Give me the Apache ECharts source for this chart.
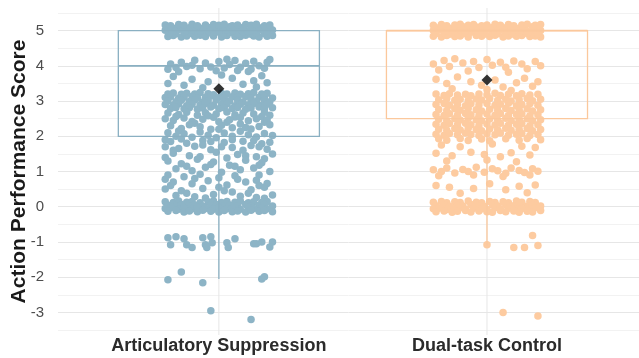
<!DOCTYPE html>
<html>
<head>
<meta charset="utf-8">
<script src="https://cdn.jsdelivr.net/npm/echarts@6/dist/echarts.min.js"></script>
<style>html,body{margin:0;padding:0;background:#fff}#c{width:639px;height:358px}</style>
</head>
<body>
<div id="c"></div>
<script>
// ---- Data ----
const categories = ['Articulatory Suppression', 'Dual-task Control'];
const yTickLabels = [-3, -2, -1, 0, 1, 2, 3, 4, 5];
const yAxisTitle = 'Action Performance Score';
// box stats: [lowWhisker, q1, median, q3, highWhisker]
const boxArticulatory = [-2.05, 2, 4, 5, 5];
const boxDualTask = [-1.1, 2.5, 5, 5, 5];
const meanValues = [3.35, 3.6];
// jittered points: [horizontal jitter, score]
const pointsArticulatory = [
[-.19,4.83],[-.17,4.86],[-.14,4.82],[-.12,4.85],[-.09,4.84],[-.07,4.87],[-.05,4.83],[-.02,4.85],[.01,4.82],[.03,4.86],[.06,4.84],[.08,4.83],[.1,4.87],[.13,4.85],[.15,4.82],[.18,4.84],[.2,4.86],
[-.18,4.93],[-.16,4.91],[-.13,4.95],[-.11,4.92],[-.08,4.94],[-.06,4.9],[-.03,4.93],[-.01,4.95],[.02,4.91],[.04,4.94],[.07,4.92],[.09,4.95],[.12,4.9],[.14,4.93],[.17,4.91],[.19,4.94],
[-.2,5.01],[-.17,4.99],[-.15,5.03],[-.12,5.0],[-.1,5.02],[-.07,4.98],[-.04,5.01],[-.02,5.03],[.0,4.99],[.03,5.02],[.05,5.0],[.08,5.03],[.11,4.98],[.13,5.01],[.16,5.02],[.18,4.99],[.2,5.02],
[-.19,5.09],[-.16,5.07],[-.14,5.1],[-.11,5.08],[-.09,5.11],[-.06,5.07],[-.03,5.09],[-.01,5.1],[.02,5.08],[.04,5.11],[.07,5.07],[.09,5.09],[.12,5.1],[.15,5.08],[.17,5.11],[.19,5.07],
[-.2,5.16],[-.18,5.14],[-.15,5.17],[-.13,5.15],[-.1,5.18],[-.08,5.14],[-.05,5.16],[-.02,5.17],[.0,5.15],[.02,5.18],[.05,5.14],[.07,5.16],[.1,5.17],[.12,5.15],[.14,5.18],[.17,5.14],[.19,5.16],
[-.18,4.05],[-.16,3.95],[-.14,4.1],[-.12,3.98],[-.1,4.02],[-.07,3.92],[-.05,4.08],[-.03,3.97],[.0,4.12],[.02,3.94],[.04,4.04],[.06,4.15],[.08,3.96],[.1,4.07],[.12,3.9],[.13,4.13],[.15,4.0],[.17,3.93],[.18,4.1],[.19,4.18],[-.19,3.9],[-.09,4.16],[.03,4.19],[-.01,3.86],[.11,3.84],[-.15,3.83],[.07,3.87],
[-.17,3.7],[-.1,3.62],[-.04,3.55],[.05,3.65],[.09,3.48],[.13,3.58],[.16,3.72],[.18,3.52],[-.13,3.45],[-.06,3.38],[.01,3.74],[.14,3.4],[-.19,3.5],
[-.19,3.2],[-.17,3.23],[-.14,3.19],[-.12,3.22],[-.09,3.2],[-.07,3.24],[-.04,3.21],[-.02,3.18],[.01,3.22],[.03,3.2],[.06,3.23],[.08,3.19],[.11,3.21],[.13,3.24],[.16,3.2],[.18,3.22],
[-.2,3.1],[-.18,3.12],[-.15,3.08],[-.13,3.11],[-.1,3.13],[-.08,3.09],[-.05,3.11],[-.03,3.14],[.0,3.1],[.02,3.08],[.05,3.12],[.07,3.1],[.1,3.13],[.12,3.09],[.15,3.11],[.17,3.13],[.2,3.09],
[-.19,3.0],[-.16,2.98],[-.14,3.02],[-.11,2.99],[-.09,3.03],[-.06,2.97],[-.04,3.01],[-.01,3.03],[.02,2.98],[.04,3.0],[.07,3.02],[.09,2.97],[.12,3.01],[.14,2.99],[.17,3.03],[.19,2.98],
[-.2,2.9],[-.17,2.88],[-.15,2.92],[-.12,2.87],[-.1,2.91],[-.07,2.89],[-.05,2.93],[-.02,2.88],[.01,2.9],[.03,2.92],[.06,2.87],[.08,2.91],[.11,2.89],[.13,2.93],[.16,2.88],[.18,2.91],
[-.18,2.79],[-.16,2.82],[-.13,2.78],[-.11,2.81],[-.08,2.77],[-.06,2.8],[-.03,2.83],[.0,2.78],[.02,2.81],[.05,2.79],[.07,2.82],[.1,2.77],[.12,2.8],[.15,2.83],[.17,2.78],[.2,2.81],
[-.19,2.66],[-.15,2.62],[-.12,2.68],[-.08,2.6],[-.05,2.67],[-.01,2.63],[.03,2.69],[.06,2.61],[.09,2.66],[.13,2.63],[.17,2.68],[.19,2.6],
[-.16,2.56],[-.04,2.58],[.06,2.55],[.16,2.56],[-.09,2.37],[.03,2.4],[.17,2.4],[-.15,2.15],[.0,2.2],[.1,2.25],
[-.2,2.5],[-.17,2.45],[-.13,2.52],[-.1,2.42],[-.06,2.48],[-.02,2.54],[.0,2.41],[.04,2.47],[.08,2.53],[.11,2.44],[.14,2.5],[.18,2.46],
[-.18,2.3],[-.14,2.22],[-.11,2.33],[-.07,2.27],[-.03,2.2],[.01,2.31],[.05,2.24],[.08,2.35],[.12,2.21],[.15,2.28],[.19,2.33],
[-.19,2.1],[-.16,2.0],[-.13,2.07],[-.1,1.97],[-.07,2.12],[-.04,2.03],[-.01,1.96],[.02,2.09],[.05,2.0],[.08,2.14],[.11,2.04],[.14,1.98],[.17,2.08],[.2,2.02],
[-.18,1.85],[-.12,1.8],[-.06,1.88],[.02,1.82],[.09,1.86],[.16,1.79],
[-.2,1.9],[-.14,1.92],[-.03,1.85],[.05,1.9],[.13,1.88],[.19,1.83],
[-.2,1.7],[-.15,1.65],[-.09,1.72],[-.03,1.62],[.05,1.68],[.12,1.74],[.18,1.63],
[-.17,1.6],[-.06,1.75],[.01,1.7],[.09,1.6],[.15,1.7],
[-.17,1.52],[-.11,1.45],[-.01,1.55],[.07,1.48],[.14,1.42],[.2,1.5],
[-.2,1.4],[-.07,1.42],[.03,1.38],[.1,1.45],[.17,1.36],
[-.19,1.3],[-.14,1.22],[-.08,1.35],[-.02,1.27],[.04,1.18],[.1,1.32],[.16,1.25],
[-.12,1.15],[-.03,1.2],[.06,1.15],[.15,1.18],
[-.16,1.08],[-.1,1.02],[-.05,1.12],[.01,0.98],[.08,1.05],[.13,1.1],[.19,1.0],
[-.19,0.9],[-.13,0.85],[-.07,0.92],[.0,0.82],[.06,0.88],[.15,0.9],
[-.2,0.78],[-.09,0.8],[.07,0.78],[.14,0.75],
[-.17,0.7],[-.1,0.65],[-.04,0.74],[.03,0.62],[.1,0.7],[.18,0.66],
[-.18,0.6],[.0,0.55],[.15,0.6],
[-.2,0.5],[-.14,0.45],[-.06,0.52],[.05,0.42],[.12,0.48],[.17,0.55],
[-.12,0.38],[.02,0.45],[.11,0.38],[-.05,0.25],[.17,0.24],
[-.16,0.32],[-.09,0.28],[-.02,0.35],[.08,0.3],[.14,0.26],[.2,0.33],
[-.2,0.14],[-.17,0.12],[-.15,0.16],[-.12,0.13],[-.1,0.15],[-.07,0.11],[-.04,0.14],[-.02,0.16],[.01,0.12],[.03,0.15],[.06,0.13],[.08,0.16],[.11,0.11],[.13,0.14],[.16,0.12],[.18,0.15],
[-.19,0.04],[-.16,0.02],[-.14,0.06],[-.11,0.03],[-.09,0.05],[-.06,0.01],[-.03,0.04],[-.01,0.06],[.02,0.02],[.04,0.05],[.07,0.03],[.1,0.06],[.12,0.01],[.15,0.04],[.17,0.06],[.2,0.02],
[-.2,-0.05],[-.18,-0.03],[-.15,-0.07],[-.13,-0.04],[-.1,-0.06],[-.08,-0.02],[-.05,-0.05],[-.02,-0.07],[.0,-0.03],[.03,-0.06],[.05,-0.04],[.08,-0.07],[.11,-0.02],[.13,-0.05],[.16,-0.03],[.18,-0.06],
[-.19,-0.13],[-.16,-0.11],[-.13,-0.15],[-.11,-0.12],[-.08,-0.14],[-.06,-0.1],[-.03,-0.13],[.0,-0.15],[.02,-0.11],[.05,-0.14],[.07,-0.12],[.1,-0.15],[.12,-0.1],[.15,-0.13],[.17,-0.11],[.2,-0.14],
[-.19,-0.88],[-.18,-1.08],[-.16,-0.85],[-.13,-0.91],[-.12,-1.08],[-.1,-1.16],[-.06,-0.88],[-.05,-1.08],[-.045,-1.16],[-.03,-0.85],[-.025,-1.02],[.03,-1.02],[.035,-1.16],[.06,-0.91],[.13,-1.05],[.14,-1.05],[.16,-1.0],[.2,-1.0],[.19,-1.14],
[-.19,-2.07],[-.14,-1.85],[-.06,-2.16],[.16,-2.05],[.17,-1.99],[-.03,-2.95],[.12,-3.2]
];
const pointsDualTask = [
[-.2,4.84],[-.17,4.82],[-.15,4.86],[-.12,4.83],[-.1,4.85],[-.07,4.82],[-.04,4.86],[-.02,4.84],[.01,4.83],[.03,4.87],[.06,4.82],[.08,4.85],[.11,4.84],[.13,4.86],[.16,4.83],[.18,4.85],[.2,4.82],
[-.19,4.92],[-.16,4.94],[-.14,4.9],[-.11,4.93],[-.09,4.91],[-.06,4.95],[-.03,4.92],[-.01,4.9],[.02,4.94],[.04,4.91],[.07,4.93],[.1,4.9],[.12,4.95],[.15,4.92],[.17,4.94],[.19,4.91],
[-.2,5.0],[-.18,5.02],[-.15,4.98],[-.13,5.01],[-.1,5.03],[-.08,4.99],[-.05,5.02],[-.02,5.0],[.0,5.03],[.03,4.98],[.05,5.01],[.08,4.99],[.1,5.02],[.13,5.0],[.15,4.98],[.18,5.03],[.2,5.0],
[-.19,5.08],[-.17,5.1],[-.14,5.07],[-.12,5.09],[-.09,5.11],[-.06,5.08],[-.04,5.1],[-.01,5.07],[.02,5.09],[.04,5.11],[.07,5.08],[.09,5.1],[.12,5.07],[.14,5.09],[.17,5.11],[.19,5.08],
[-.2,5.15],[-.17,5.17],[-.15,5.14],[-.12,5.16],[-.1,5.18],[-.07,5.15],[-.05,5.17],[-.02,5.14],[.0,5.16],[.03,5.18],[.05,5.15],[.08,5.17],[.1,5.14],[.13,5.16],[.15,5.18],[.18,5.15],[.2,5.17],
[-.2,4.05],[-.16,4.15],[-.14,3.98],[-.12,4.2],[-.09,4.08],[-.05,4.12],[-.03,3.95],[.0,4.18],[.02,4.02],[.05,4.1],[.07,3.96],[.1,4.14],[.13,4.05],[.15,3.92],[.18,4.12],[.2,4.0],[-.18,3.88],[-.07,3.85],[.08,3.82],
[-.19,3.62],[-.15,3.5],[-.11,3.68],[-.06,3.55],[-.02,3.45],[.03,3.6],[.06,3.4],[.11,3.52],[.14,3.65],[.17,3.42],[.19,3.55],[-.13,3.35],[.0,3.33],[.09,3.3],
[-.19,3.2],[-.16,3.16],[-.14,3.21],[-.11,3.17],[-.08,3.19],[-.06,3.15],[-.03,3.2],[.0,3.18],[.03,3.22],[.05,3.16],[.08,3.19],[.11,3.15],[.13,3.21],[.16,3.17],[.19,3.19],
[-.18,3.04],[-.15,3.07],[-.12,3.02],[-.1,3.05],[-.07,3.01],[-.04,3.06],[-.02,3.03],[.01,3.07],[.04,3.02],[.07,3.05],[.09,3.0],[.12,3.04],[.15,3.07],[.17,3.01],[.2,3.05],
[-.19,2.9],[-.16,2.93],[-.14,2.88],[-.11,2.91],[-.08,2.87],[-.06,2.92],[-.03,2.89],[.0,2.93],[.03,2.88],[.05,2.91],[.08,2.94],[.11,2.87],[.13,2.9],[.16,2.92],[.19,2.88],
[-.18,2.76],[-.15,2.73],[-.12,2.78],[-.1,2.74],[-.07,2.79],[-.04,2.75],[-.02,2.72],[.01,2.77],[.04,2.74],[.07,2.79],[.09,2.73],[.12,2.76],[.15,2.78],[.17,2.72],[.2,2.75],
[-.19,2.62],[-.16,2.59],[-.14,2.64],[-.11,2.6],[-.08,2.65],[-.06,2.61],[-.03,2.58],[.0,2.63],[.03,2.6],[.05,2.65],[.08,2.59],[.11,2.62],[.13,2.64],[.16,2.58],[.19,2.61],
[-.18,2.48],[-.15,2.45],[-.12,2.5],[-.1,2.46],[-.07,2.51],[-.04,2.47],[-.02,2.44],[.01,2.49],[.04,2.46],[.07,2.51],[.09,2.45],[.12,2.48],[.15,2.5],[.17,2.44],[.2,2.47],
[-.19,2.34],[-.16,2.31],[-.14,2.36],[-.11,2.32],[-.08,2.37],[-.06,2.33],[-.03,2.3],[.0,2.35],[.03,2.32],[.05,2.37],[.08,2.31],[.11,2.34],[.13,2.36],[.16,2.3],[.19,2.33],
[-.18,2.2],[-.15,2.17],[-.12,2.22],[-.1,2.18],[-.07,2.23],[-.04,2.19],[-.02,2.16],[.01,2.21],[.04,2.18],[.07,2.23],[.09,2.17],[.12,2.2],[.15,2.22],[.17,2.16],[.2,2.19],
[-.19,2.06],[-.16,2.03],[-.14,2.08],[-.11,2.04],[-.08,2.09],[-.06,2.05],[-.03,2.02],[.0,2.07],[.03,2.04],[.05,2.09],[.08,2.03],[.11,2.06],[.13,2.08],[.16,2.02],[.19,2.05],
[-.18,1.93],[-.15,1.89],[-.1,1.94],[-.07,1.88],[-.02,1.92],[.01,1.87],[.07,1.93],[.12,1.89],[.15,1.94],[.2,1.9],
[-.17,1.75],[-.1,1.7],[.02,1.78],[.13,1.72],[.18,1.68],[-.19,1.52],[-.13,1.45],[-.06,1.55],[-.01,1.48],[.05,1.42],[.09,1.53],[.16,1.47],[-.15,1.3],[.0,1.33],[.11,1.28],
[-.2,1.05],[-.17,1.0],[-.15,1.1],[-.12,0.96],[-.09,1.06],[-.07,1.0],[-.04,1.12],[-.01,0.98],[.02,1.08],[.04,1.02],[.07,0.95],[.09,1.1],[.12,1.03],[.14,0.97],[.17,1.08],[.19,1.01],[-.18,0.88],[-.05,0.9],[.06,0.86],[.16,0.9],
[-.19,0.6],[-.14,0.55],[-.05,0.52],[.01,0.65],[.07,0.48],[.12,0.58],[.18,0.62],[-.1,0.38],[.15,0.4],
[-.2,0.13],[-.17,0.15],[-.15,0.11],[-.12,0.14],[-.1,0.12],[-.07,0.16],[-.04,0.13],[-.02,0.11],[.01,0.15],[.03,0.12],[.06,0.14],[.08,0.11],[.11,0.16],[.13,0.13],[.16,0.15],[.18,0.12],
[-.19,0.03],[-.16,0.05],[-.14,0.01],[-.11,0.04],[-.09,0.02],[-.06,0.06],[-.03,0.03],[-.01,0.01],[.02,0.05],[.04,0.02],[.07,0.06],[.1,0.03],[.12,0.05],[.15,0.01],[.17,0.04],[.2,0.02],
[-.2,-0.06],[-.18,-0.04],[-.15,-0.08],[-.13,-0.05],[-.1,-0.03],[-.08,-0.07],[-.05,-0.04],[-.02,-0.06],[.0,-0.08],[.03,-0.03],[.05,-0.06],[.08,-0.04],[.11,-0.07],[.13,-0.05],[.16,-0.08],[.18,-0.03],
[-.19,-0.14],[-.16,-0.12],[-.13,-0.16],[-.11,-0.13],[-.08,-0.11],[-.06,-0.15],[-.03,-0.12],[.0,-0.14],[.02,-0.16],[.05,-0.11],[.07,-0.14],[.1,-0.12],[.12,-0.16],[.15,-0.13],[.17,-0.15],[.2,-0.11],
[.0,-1.08],[.1,-1.16],[.14,-1.16],[.17,-0.82],[.19,-1.1],[.06,-3.0],[.19,-3.1]
];
const groupColors = ['#8DB4C6', '#FDCBA0'];
const boxColors = ['#8AB0C2', '#FBC89C'];

// ---- Build ----
const boxes = [boxArticulatory, boxDualTask];
const pointSeries = [pointsArticulatory, pointsDualTask].map((pts, i) => ({
  type: 'scatter',
  data: pts.map(p => [i + 1 + p[0], p[1]]),
  symbolSize: 7.5,
  itemStyle: { color: groupColors[i], opacity: 1 },
  z: 2,
  silent: true
}));

const chart = echarts.init(document.getElementById('c'), null, { renderer: 'canvas' });
chart.setOption({
  animation: false,
  backgroundColor: '#ffffff',
  grid: { left: 58, right: 0, top: 13, bottom: 28, containLabel: false, outerBoundsMode: 'none' },
  xAxis: {
    type: 'value', min: 0.4, max: 2.567,
    axisLine: { show: false }, axisTick: { show: false }, splitLine: { show: false },
    axisLabel: {
      customValues: [1, 2],
      formatter: v => categories[Math.round(v) - 1] || '',
      fontFamily: 'Liberation Sans, Arial, sans-serif', fontWeight: 'bold', fontSize: 18,
      color: '#2b2b2b', margin: 7
    }
  },
  yAxis: {
    type: 'value', min: -3.5, max: 5.5, interval: 0.5,
    name: yAxisTitle, nameLocation: 'middle', nameGap: 28, nameRotate: 90, nameMoveOverlap: false,
    nameTextStyle: { fontFamily: 'Liberation Sans, Arial, sans-serif', fontWeight: 'bold', fontSize: 21, color: '#1a1a1a' },
    axisLine: { show: false }, axisTick: { show: false },
    axisLabel: {
      formatter: v => (yTickLabels.indexOf(v) >= 0 ? String(v) : ''),
      fontFamily: 'Liberation Sans, Arial, sans-serif', fontSize: 15, color: '#4d4d4d', margin: 14
    },
    splitLine: { show: true, lineStyle: { color: ['#f2f2f2', '#e6e6e6'], width: 1 } }
  },
  series: [
    {
      type: 'custom', z: 0, silent: true,
      data: [[1], [2]],
      renderItem: (params, api) => {
        const x = api.coord([api.value(0), 0])[0];
        const cs = params.coordSys;
        return { type: 'line', shape: { x1: x, y1: cs.y - 5, x2: x, y2: cs.y + cs.height + 5 },
          style: { stroke: '#e6e6e6', lineWidth: 1 } };
      }
    },
    ...pointSeries,
    {
      type: 'custom', z: 3, silent: true,
      data: boxes.map((b, i) => [i + 1, ...b]),
      renderItem: (params, api) => {
        const i = params.dataIndex;
        const xc = api.value(0);
        const hw = 0.375;
        const pLow = api.coord([xc, api.value(1)]);
        const pQ1 = api.coord([xc, api.value(2)]);
        const pMed = api.coord([xc, api.value(3)]);
        const pQ3 = api.coord([xc, api.value(4)]);
        const pHigh = api.coord([xc, api.value(5)]);
        const xl = api.coord([xc - hw, 0])[0];
        const xr = api.coord([xc + hw, 0])[0];
        const st = { stroke: boxColors[i], lineWidth: 1.3, fill: null };
        return { type: 'group', children: [
          { type: 'line', shape: { x1: pQ1[0], y1: pQ1[1], x2: pLow[0], y2: pLow[1] }, style: st },
          { type: 'line', shape: { x1: pQ3[0], y1: pQ3[1], x2: pHigh[0], y2: pHigh[1] }, style: st },
          { type: 'rect', shape: { x: xl, y: pQ3[1], width: xr - xl, height: pQ1[1] - pQ3[1] }, style: st },
          { type: 'line', shape: { x1: xl, y1: pMed[1], x2: xr, y2: pMed[1] }, style: { stroke: boxColors[i], lineWidth: 1.6 } }
        ] };
      }
    },
    {
      type: 'scatter', z: 4, silent: true,
      symbol: 'diamond', symbolSize: 11,
      itemStyle: { color: '#000000' },
      data: meanValues.map((m, i) => [i + 1, m])
    }
  ]
});
</script>
</body>
</html>
